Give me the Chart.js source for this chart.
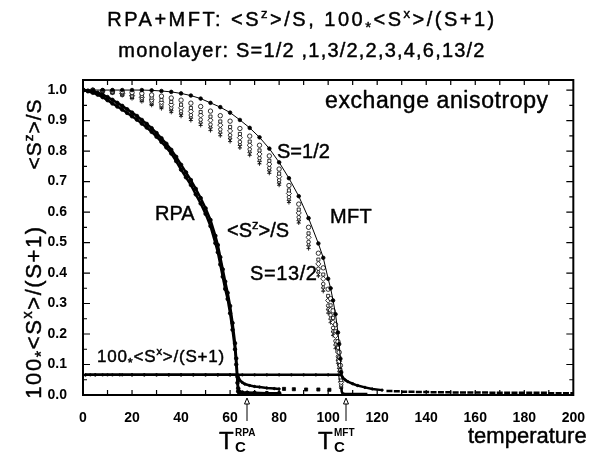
<!DOCTYPE html>
<html>
<head>
<meta charset="utf-8">
<script src="https://cdn.jsdelivr.net/npm/chart.js@4.4.1/dist/chart.umd.min.js"></script>
<style>
  html, body { margin: 0; padding: 0; background: #fff; }
  #grafico { display: block; }
</style>
</head>
<body>
<canvas id="grafico" width="592" height="459"></canvas>
<script>
// Temperaturas y magnetizaciones RPA (<Sz>/S), banda de todos los espines
const tempRpa = [0,2,4,6,8,10,12,14,16,18,20,22,24,26,28,30,32,34,36,38,40,42,44,46,48,50,52,
  54,55,56,57,58,59,60,61,62,62.5,63,63.3,63.6,64,65,67,70,75,80];
const rpaS1_2 = [1.000,0.998,0.995,0.991,0.985,0.977,0.968,0.958,0.948,0.937,0.926,0.915,0.902,0.889,
  0.875,0.859,0.842,0.824,0.804,0.781,0.755,0.730,0.705,0.676,0.646,0.612,0.574,0.522,0.492,0.452,
  0.412,0.372,0.335,0.292,0.236,0.170,0.120,0.060,0.022,0.012,0.009,0.008,0.007,0.007,0.006,0.006];
const rpaS13_2 = [1.000,0.996,0.991,0.985,0.977,0.967,0.956,0.946,0.936,0.925,0.914,0.903,0.890,0.877,
  0.863,0.847,0.830,0.812,0.792,0.767,0.739,0.714,0.689,0.658,0.628,0.594,0.554,0.498,0.468,0.428,
  0.388,0.348,0.315,0.268,0.214,0.150,0.100,0.040,0.012,0.009,0.008,0.007,0.007,0.006,0.006,0.005];

// Campo medio (MFT) para S = 1/2, 1, 3/2, 2, 3, 4, 6, 13/2
const tempMft = [0,4,8,12,16,20,24,28,32,36,40,44,48,52,56,60,64,68,72,76,80,84,88,92,96,
  98,100,101,102,103,104,104.5,105,105.3];
const mftS1_2 = [1.000,1.000,1.000,1.000,1.000,1.000,1.000,0.999,0.997,0.994,0.989,0.982,0.972,0.958,
  0.944,0.926,0.902,0.876,0.845,0.808,0.763,0.711,0.652,0.580,0.497,0.450,0.381,0.350,0.310,0.265,
  0.205,0.167,0.119,0.075];
const mftS1 = [1.000,1.000,0.998,0.997,0.995,0.992,0.989,0.984,0.980,0.974,0.967,0.957,0.946,0.931,
  0.916,0.898,0.874,0.849,0.819,0.784,0.741,0.687,0.626,0.550,0.465,0.417,0.347,0.316,0.276,0.231,
  0.175,0.140,0.097,0.059];
const mftS3_2 = [1.000,1.000,0.998,0.995,0.991,0.986,0.981,0.975,0.968,0.961,0.952,0.941,0.928,0.913,
  0.897,0.879,0.856,0.831,0.802,0.768,0.726,0.671,0.608,0.530,0.444,0.395,0.325,0.294,0.253,0.209,
  0.155,0.123,0.082,0.049];
const mftS2 = [1.000,0.999,0.997,0.994,0.989,0.982,0.976,0.968,0.960,0.952,0.942,0.930,0.917,0.901,
  0.885,0.866,0.844,0.819,0.790,0.757,0.716,0.661,0.597,0.517,0.430,0.381,0.310,0.279,0.238,0.194,
  0.141,0.111,0.072,0.042];
const mftS3 = [1.000,0.999,0.996,0.992,0.986,0.978,0.970,0.961,0.952,0.942,0.931,0.918,0.903,0.887,
  0.871,0.852,0.830,0.806,0.777,0.745,0.705,0.649,0.583,0.502,0.414,0.364,0.293,0.262,0.220,0.177,
  0.126,0.098,0.061,0.034];
const mftS4 = [1.000,0.999,0.996,0.991,0.984,0.976,0.967,0.956,0.947,0.936,0.924,0.911,0.895,0.879,
  0.862,0.843,0.822,0.798,0.769,0.738,0.698,0.641,0.575,0.493,0.404,0.354,0.283,0.252,0.210,0.167,
  0.117,0.090,0.055,0.029];
const mftS6 = [1.000,0.999,0.995,0.990,0.983,0.973,0.964,0.952,0.942,0.930,0.918,0.904,0.888,0.872,
  0.855,0.836,0.815,0.791,0.762,0.731,0.692,0.635,0.568,0.485,0.395,0.346,0.274,0.243,0.201,0.158,
  0.109,0.082,0.049,0.025];
const mftS13_2 = [1.000,0.999,0.995,0.990,0.982,0.972,0.962,0.950,0.939,0.927,0.914,0.900,0.884,0.867,
  0.850,0.831,0.810,0.786,0.758,0.727,0.688,0.631,0.564,0.480,0.390,0.340,0.268,0.237,0.195,0.152,
  0.104,0.078,0.045,0.022];

// Cola de <Sz>/S por encima de Tc (MFT)
const tempColaMft = [105.3,105.5,105.8,106.5,108,110,113,116];
const colaMft = [0.050,0.012,0.006,0.004,0.003,0.003,0.003,0.003];

// 100*<Sx>/(S+1)
const tempSxRpa = [1,3,5,8,12,16,20,25,30,35,40,45,50,55,60,63,63.5,64,65,66,68,70,72,75,78,80];
const sxRpa = [0.066,0.066,0.066,0.066,0.066,0.066,0.066,0.066,0.066,0.066,0.066,0.066,0.066,0.066,
  0.066,0.066,0.055,0.048,0.041,0.036,0.031,0.028,0.026,0.023,0.021,0.020];
const tempSxRpaCola = [82,86,91,96,100.5];
const sxRpaCola = [0.020,0.019,0.018,0.018,0.017];
const tempSxMft = [1,5,10,15,20,25,30,35,40,45,50,55,60,65,70,75,80,85,90,95,100,105.3,
  106,107,108,110,112,115,118,122];
const sxMft = [0.066,0.066,0.066,0.066,0.066,0.066,0.066,0.066,0.066,0.066,0.066,0.066,0.066,0.066,
  0.066,0.066,0.066,0.066,0.066,0.066,0.066,0.066,0.056,0.049,0.044,0.037,0.031,0.025,0.020,0.016];
const tempSxMftCola = [125,128,131,134,137,140,143,146,149,152,155,158,161,164,167,170,173,176,179,
  182,185,188,191,194,197,200];
const sxMftCola = [0.013,0.012,0.011,0.011,0.010,0.010,0.009,0.009,0.009,0.008,0.008,0.008,0.008,
  0.008,0.007,0.007,0.007,0.007,0.007,0.007,0.007,0.007,0.006,0.006,0.006,0.006];

// Ticks de los ejes
const ticksX = [0,20,40,60,80,100,120,140,160,180,200];
const ticksY = [0,0.1,0.2,0.3,0.4,0.5,0.6,0.7,0.8,0.9,1.0];

const FUENTE = '"Liberation Sans", Arial, Helvetica, sans-serif';

function puntos(ts, vs) {
    return ts.map((t, i) => ({ x: t, y: vs[i] }));
}

// Función para crear una serie con el estilo pedido
function serie(ts, vs, estilo) {
    return Object.assign({
        data: puntos(ts, vs),
        showLine: false,
        borderColor: '#000',
        backgroundColor: '#000',
        pointBorderColor: '#000',
        pointBackgroundColor: '#fff',
        pointBorderWidth: 0.8,
        pointRadius: 2,
        borderWidth: 1
    }, estilo);
}

// Texto con superíndices y asterisco centrado (con un trazo fino para engrosar)
function textoRico(ctx, partes, x, y, tam, alinear, espacio) {
    ctx.letterSpacing = (espacio || 0) + 'px';
    let ancho = 0;
    const medidas = partes.map(([t, tipo]) => {
        let s = tam;
        if (tipo === 'sup') s = tam * 0.65;
        if (tipo === 'ast') s = tam * 0.75;
        ctx.font = `${s}px ${FUENTE}`;
        const w = ctx.measureText(t).width;
        ancho += w;
        return { t, tipo, s, w };
    });
    let cx = alinear === 'center' ? x - ancho / 2 : x;
    ctx.lineWidth = 0.45;
    ctx.lineJoin = 'round';
    medidas.forEach(m => {
        ctx.font = `${m.s}px ${FUENTE}`;
        let dy = 0;
        if (m.tipo === 'sup') dy = -tam * 0.4;
        if (m.tipo === 'ast') dy = tam * 0.28;
        ctx.fillText(m.t, cx, y + dy);
        ctx.strokeText(m.t, cx, y + dy);
        cx += m.w;
    });
    ctx.letterSpacing = '0px';
}

function flecha(ctx, x, y0, y1) {
    ctx.lineWidth = 1;
    ctx.beginPath();
    ctx.moveTo(x, y0);
    ctx.lineTo(x, y1 + 6);
    ctx.moveTo(x - 2.5, y1 + 6);
    ctx.lineTo(x, y1);
    ctx.lineTo(x + 2.5, y1 + 6);
    ctx.closePath();
    ctx.stroke();
}

const marcoYTextos = {
    id: 'marcoYTextos',
    afterDraw(chart) {
        const ctx = chart.ctx;
        const area = chart.chartArea;
        const ejeX = chart.scales.x;
        const ejeY = chart.scales.y;
        ctx.save();
        ctx.strokeStyle = '#000';
        ctx.fillStyle = '#000';

        // marcas hacia dentro en los cuatro lados
        ctx.lineWidth = 1.2;
        ctx.beginPath();
        for (let t = 10; t < 200; t += 10) {
            const px = ejeX.getPixelForValue(t);
            ctx.moveTo(px, area.bottom); ctx.lineTo(px, area.bottom - 5);
            ctx.moveTo(px, area.top); ctx.lineTo(px, area.top + 5);
        }
        for (let i = 1; i <= 20; i++) {
            const py = ejeY.getPixelForValue(i * 0.05);
            const largo = i % 2 === 0 ? 7 : 4;
            ctx.moveTo(area.left, py); ctx.lineTo(area.left + largo, py);
            ctx.moveTo(area.right, py); ctx.lineTo(area.right - largo, py);
        }
        ctx.stroke();

        ctx.lineWidth = 2;
        ctx.strokeRect(area.left, area.top, area.right - area.left, area.bottom - area.top);

        // títulos
        ctx.textBaseline = 'alphabetic';
        textoRico(ctx, [['RPA+MFT: <S', 'n'], ['z', 'sup'], ['>/S, 100', 'n'], ['*', 'ast'],
            ['<S', 'n'], ['x', 'sup'], ['>/(S+1)', 'n']], 302, 26, 20, 'center', 2.5);
        textoRico(ctx, [['monolayer: S=1/2 ,1,3/2,2,3,4,6,13/2', 'n']], 302, 57, 20, 'center', 1.2);

        // títulos del eje Y, girados
        ctx.save();
        ctx.translate(41, 134);
        ctx.rotate(-Math.PI / 2);
        textoRico(ctx, [['<S', 'n'], ['z', 'sup'], ['>/S', 'n']], 0, 0, 21, 'center', 1);
        ctx.restore();
        ctx.save();
        ctx.translate(41, 312);
        ctx.rotate(-Math.PI / 2);
        textoRico(ctx, [['100', 'n'], ['*', 'ast'], ['<S', 'n'], ['x', 'sup'], ['>/(S+1)', 'n']],
            0, 0, 22, 'center', 1.6);
        ctx.restore();

        // título del eje X
        textoRico(ctx, [['temperature', 'n']], 468, 443, 22, 'left', 0);

        // anotaciones dentro del gráfico
        textoRico(ctx, [['exchange anisotropy', 'n']], 325, 108, 23, 'left', 0.6);
        textoRico(ctx, [['S=1/2', 'n']], 277, 158, 20, 'left', 0);
        textoRico(ctx, [['MFT', 'n']], 330, 223, 20, 'left', 0.3);
        textoRico(ctx, [['RPA', 'n']], 155, 220, 20, 'left', 0);
        textoRico(ctx, [['<S', 'n'], ['z', 'sup'], ['>/S', 'n']], 227, 237, 20, 'left', 0);
        textoRico(ctx, [['S=13/2', 'n']], 250, 280, 20, 'left', 0.6);
        textoRico(ctx, [['100', 'n'], ['*', 'ast'], ['<S', 'n'], ['x', 'sup'], ['>/(S+1)', 'n']],
            97, 362, 17, 'left', 0.8);

        // temperaturas críticas con flechas
        flecha(ctx, 247, 421, 398);
        flecha(ctx, 346, 421, 398);
        [[219, 'RPA'], [318, 'MFT']].forEach(([x0, sup]) => {
            ctx.lineWidth = 0.5;
            ctx.font = `24px ${FUENTE}`;
            ctx.fillText('T', x0, 449);
            ctx.strokeText('T', x0, 449);
            ctx.font = `bold 10px ${FUENTE}`;
            ctx.fillText(sup, x0 + 16, 436);
            ctx.font = `bold 15px ${FUENTE}`;
            ctx.fillText('C', x0 + 16, 452);
        });
        ctx.restore();
    }
};

const conjuntos = [
    // componente x
    serie(tempSxRpa, sxRpa, { showLine: true, borderWidth: 2.5, pointRadius: 1.2, pointBackgroundColor: '#000' }),
    serie(tempSxRpaCola, sxRpaCola, { pointStyle: 'rect', pointRadius: 2.2, pointBackgroundColor: '#000' }),
    serie(tempSxMft, sxMft, { showLine: true, borderWidth: 2.5, pointRadius: 1.2, pointBackgroundColor: '#000' }),
    serie(tempSxMftCola, sxMftCola, { pointStyle: 'line', pointRadius: 3, pointBorderWidth: 2.5 }),
    // RPA <Sz>/S
    serie(tempRpa, rpaS1_2, { showLine: true, borderWidth: 2.5, pointRadius: 1.8, pointBackgroundColor: '#000' }),
    serie(tempRpa, rpaS13_2, { showLine: true, borderWidth: 2.5, pointRadius: 1.8, pointBackgroundColor: '#000' }),
    // MFT <Sz>/S
    serie(tempMft, mftS1_2, { showLine: true, borderWidth: 1, pointRadius: 1.8, pointBackgroundColor: '#000' }),
    serie(tempMft, mftS1, { pointStyle: 'circle', pointRadius: 2.2 }),
    serie(tempMft, mftS3_2, { pointStyle: 'rect', pointRadius: 2.2 }),
    serie(tempMft, mftS2, { pointStyle: 'rectRot', pointRadius: 2.6 }),
    serie(tempMft, mftS3, { pointStyle: 'circle', pointRadius: 1.8 }),
    serie(tempMft, mftS4, { pointStyle: 'triangle', pointRadius: 2.2 }),
    serie(tempMft, mftS6, { pointStyle: 'crossRot', pointRadius: 2 }),
    serie(tempMft, mftS13_2, { pointStyle: 'cross', pointRadius: 2 }),
    serie(tempColaMft, colaMft, { showLine: true, borderWidth: 2.5, pointRadius: 0 })
];

new Chart(document.getElementById('grafico').getContext('2d'), {
    type: 'scatter',
    data: { datasets: conjuntos },
    options: {
        responsive: false,
        animation: false,
        layout: { padding: { left: 0, right: 14, top: 80, bottom: 24 } },
        plugins: {
            legend: { display: false },
            tooltip: { enabled: false }
        },
        scales: {
            x: {
                type: 'linear',
                min: 0,
                max: 200,
                afterFit: scale => { scale.height = 40; },
                afterBuildTicks: scale => { scale.ticks = ticksX.map(v => ({ value: v })); },
                grid: { display: false },
                border: { display: false },
                ticks: {
                    padding: 7,
                    color: '#000',
                    maxRotation: 0,
                    font: { family: FUENTE, size: 14, weight: 'bold' }
                }
            },
            y: {
                type: 'linear',
                min: 0,
                max: 1.033,
                afterFit: scale => { scale.width = 83; },
                afterBuildTicks: scale => { scale.ticks = ticksY.map(v => ({ value: v })); },
                grid: { display: false },
                border: { display: false },
                ticks: {
                    padding: 8,
                    color: '#000',
                    callback: v => v.toFixed(1),
                    font: { family: FUENTE, size: 14, weight: 'bold' }
                }
            }
        }
    },
    plugins: [marcoYTextos]
});
</script>
</body>
</html>
